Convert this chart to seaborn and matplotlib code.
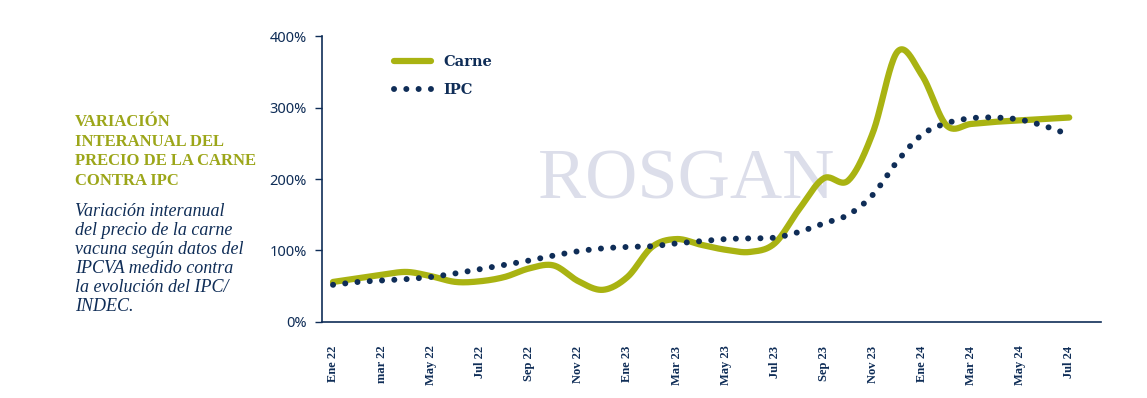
import matplotlib

matplotlib.use("Agg")

import matplotlib.pyplot as plt
import numpy as np
import pandas as pd
import seaborn as sns

OLIVE = "#A9B312"
TITLE_OLIVE = "#9CA619"
NAVY = "#0F2D57"
WATERMARK = "#DCDEEA"

# valores mensuales (ene 22 .. jul 24), variación interanual en %
MONTHS = list(range(31))
TICK_LABELS = ["Ene 22", "mar 22", "May 22", "Jul 22", "Sep 22", "Nov 22",
               "Ene 23", "Mar 23", "May 23", "Jul 23", "Sep 23", "Nov 23",
               "Ene 24", "Mar 24", "May 24", "Jul 24"]
CARNE = [56, 61, 66, 70, 64, 56, 57, 63, 75, 79,
         57, 45, 63, 105, 116, 108, 101, 98, 110, 158,
         201, 198, 265, 378, 345, 275, 277, 280, 282, 284, 286]
IPC = [52, 56, 58, 60, 63, 68, 74, 80, 86, 93,
       99, 103, 105, 106, 110, 113, 116, 117, 118, 126,
       138, 150, 178, 225, 262, 278, 285, 286, 283, 274, 262]


def smooth(x, y, steps=24):
    """Curva suave tipo Catmull-Rom que pasa por todos los puntos."""
    x = np.asarray(x, dtype=float)
    y = np.asarray(y, dtype=float)
    tangents = np.gradient(y, x)
    xs, ys = [], []
    for i in range(len(x) - 1):
        h = x[i + 1] - x[i]
        t = np.linspace(0, 1, steps, endpoint=False)
        h00 = 2 * t**3 - 3 * t**2 + 1
        h10 = t**3 - 2 * t**2 + t
        h01 = -2 * t**3 + 3 * t**2
        h11 = t**3 - t**2
        xs.append(x[i] + t * h)
        ys.append(h00 * y[i] + h10 * h * tangents[i] + h01 * y[i + 1] + h11 * h * tangents[i + 1])
    xs.append([x[-1]])
    ys.append([y[-1]])
    return np.concatenate(xs), np.concatenate(ys)


def main() -> None:
    sns.set_theme(style="white")
    plt.rcParams["font.family"] = ["DejaVu Sans"]

    figure = plt.figure(figsize=(11.47, 3.98), dpi=100)
    axis = figure.add_axes([0.2807, 0.191, 0.6793, 0.7185])

    carne_x, carne_y = smooth(MONTHS, CARNE)
    ipc_x, ipc_y = smooth(MONTHS, IPC)
    carne_df = pd.DataFrame({"mes": carne_x, "valor": carne_y})
    ipc_df = pd.DataFrame({"mes": ipc_x, "valor": ipc_y})

    axis.text(14.4, 197, "ROSGAN", fontsize=52, family="Liberation Serif",
              color=WATERMARK, ha="center", va="center", zorder=0)

    sns.lineplot(data=carne_df, x="mes", y="valor", ax=axis, color=OLIVE,
                 linewidth=4.5, label="Carne", solid_capstyle="round", zorder=2)
    sns.lineplot(data=ipc_df, x="mes", y="valor", ax=axis, color=NAVY,
                 linewidth=4.3, linestyle=(0, (0.01, 2.05)), dash_capstyle="round",
                 label="IPC", zorder=3)

    axis.set_xlim(-0.45, 31.3)
    axis.set_ylim(0, 400)
    axis.set_yticks([0, 100, 200, 300, 400])
    axis.set_yticklabels(["0%", "100%", "200%", "300%", "400%"],
                         fontsize=10.5, family="Noto Sans", color=NAVY)
    axis.set_xticks(MONTHS[::2])
    axis.set_xticklabels(TICK_LABELS, rotation=90, fontsize=9,
                         family="Liberation Serif", fontweight="bold", color=NAVY)
    axis.tick_params(axis="y", length=5, width=1, color=NAVY, pad=6, left=True)
    axis.tick_params(axis="x", length=0, pad=17)
    axis.set_xlabel("")
    axis.set_ylabel("")
    for side in ["top", "right"]:
        axis.spines[side].set_visible(False)
    for side in ["left", "bottom"]:
        axis.spines[side].set_color(NAVY)
        axis.spines[side].set_linewidth(1.2)

    legend = axis.legend(loc="upper left", bbox_to_anchor=(0.075, 0.98), frameon=False,
                         handlelength=2.6, handletextpad=0.8, labelspacing=1.0,
                         prop={"family": "DejaVu Serif", "weight": "bold", "size": 10.5})
    for text in legend.get_texts():
        text.set_color(NAVY)

    figure.text(0.0654, 1 - 114 / 398,
                "VARIACIÓN\nINTERANUAL DEL\nPRECIO DE LA CARNE\nCONTRA IPC",
                fontsize=12, family="Liberation Serif", fontweight="bold",
                color=TITLE_OLIVE, va="top", ha="left", linespacing=1.3)
    figure.text(0.0654, 1 - 203 / 398,
                "Variación interanual\ndel precio de la carne\nvacuna según datos del\n"
                "IPCVA medido contra\nla evolución del IPC/\nINDEC.",
                fontsize=13, family="Liberation Serif", style="italic",
                color=NAVY, va="top", ha="left", linespacing=1.15)

    figure.savefig("out.png", dpi=100, facecolor="white")
    plt.close(figure)


if __name__ == "__main__":
    main()
